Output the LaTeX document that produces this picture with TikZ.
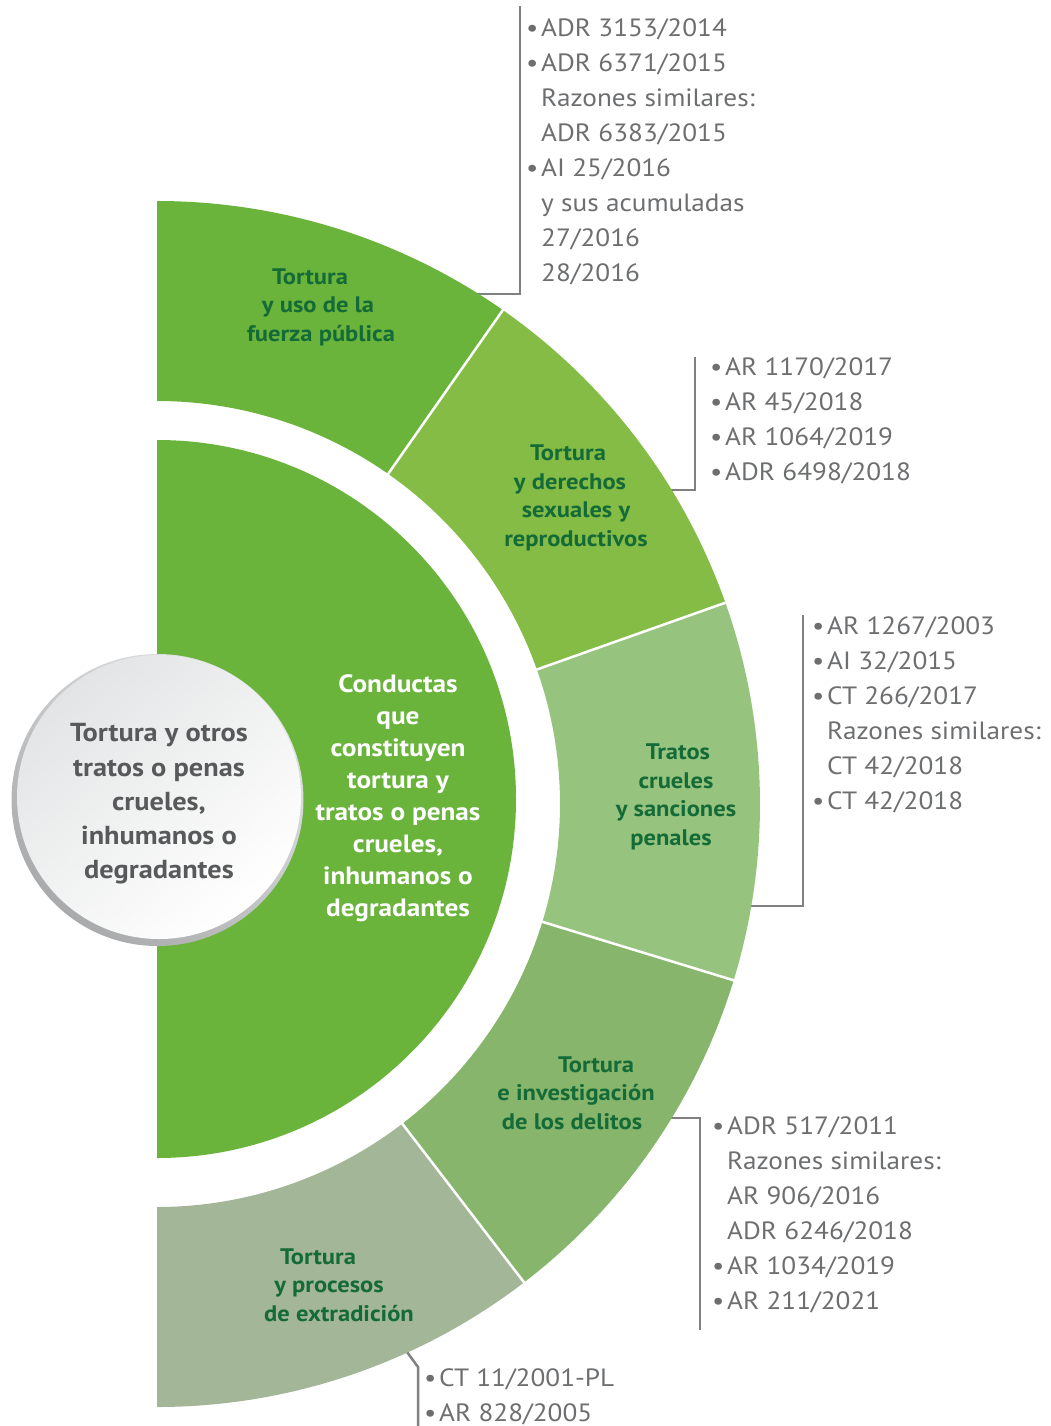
\documentclass[tikz,border=0pt]{standalone}
\usepackage{fontspec}
\setmainfont{PT Sans}[FakeStretch=1.09]
\usetikzlibrary{calc}
\definecolor{cdisc}{HTML}{6AB43C}
\definecolor{cone}{HTML}{6AB43C}
\definecolor{ctwo}{HTML}{84BC45}
\definecolor{cthree}{HTML}{96C47E}
\definecolor{cfour}{HTML}{86B56B}
\definecolor{cfive}{HTML}{A3B698}
\definecolor{tgreen}{HTML}{156B37}
\definecolor{tgray}{HTML}{6D6E70}
\definecolor{tdark}{HTML}{58595B}
\definecolor{lgray}{HTML}{808080}
\definecolor{rimlight}{HTML}{E2E3E4}
\definecolor{rimdark}{HTML}{A9AAAB}
\definecolor{innergray}{HTML}{E3E4E5}
\newcommand\itbul{\makebox[16pt][l]{\hspace{1pt}•}}
\newcommand\itind{\hspace*{16pt}}
% shift a centred line: right by #1/2 or left by #1/2
\newcommand\shr[2]{\rule{#1}{0pt}#2}
\newcommand\shl[2]{#2\rule{#1}{0pt}}
\newcommand\annsec[3]{%
  \fill[#3] ($(O)+(#1:603)$) arc[start angle=#1, end angle=#2, radius=603]
    -- ($(O)+(#2:403)$) arc[start angle=#2, end angle=#1, radius=403] -- cycle;}
\begin{document}
\begin{tikzpicture}[x=1pt,y=1pt,
  seglabel/.style={text=tgreen, font=\bfseries\fontsize{22.5}{28.5}\selectfont, align=center, inner sep=0},
  caselist/.style={text=tgray, font=\fontsize{25}{35.1}\selectfont, align=left, anchor=north west, inner sep=0},
  bracket/.style={draw=lgray, line width=2.5pt, line join=miter},
  divider/.style={draw=white, line width=2.5pt}]
\useasboundingbox (0,0) rectangle (1050,-1426);
\coordinate (O) at (157,-804);
\coordinate (D) at (157,-799);
% bracket coordinates
\coordinate (b1s) at (463.5,-294);
\coordinate (b1c) at (520,-294);
\coordinate (b1e) at (520,-6);
\coordinate (b2s) at (662,-490);
\coordinate (b2c) at (695,-490);
\coordinate (b2e) at (695,-357);
\coordinate (b3s) at (743,-906);
\coordinate (b3c) at (803,-906);
\coordinate (b3e) at (803,-615);
\coordinate (b4s) at (662,-1118);
\coordinate (b4c) at (700,-1118);
\coordinate (b4e) at (700,-1330);
\coordinate (b5s) at (400,-1342.5);
\coordinate (b5c) at (418,-1367);
\coordinate (b5e) at (418,-1426);
\draw[bracket] (b1s) -- (b1c) -- (b1e);
\draw[bracket] (b2s) -- (b2c) -- (b2e);
\draw[bracket] (b3s) -- (b3c) -- (b3e);
\draw[bracket] (b4s) -- (b4c) -- (b4e);
\draw[bracket] (b5s) -- (b5c) -- (b5e);
% ring segments
\annsec{90}{55}{cone}
\annsec{55}{19.5}{ctwo}
\annsec{19.5}{-17}{cthree}
\annsec{-17}{-52.5}{cfour}
\annsec{-52.5}{-90}{cfive}
\foreach \a in {55,19.5,-17,-52.5}
  \draw[divider] ($(O)+(\a:400)$) -- ($(O)+(\a:607)$);
% inner half disc
\fill[cdisc] ($(D)+(90:359)$) arc[start angle=90, end angle=-90, radius=359] -- cycle;
% circle
\shade[top color=rimlight, bottom color=rimdark, shading angle=-40] (157.5,-800) circle (146);
\shade[top color=innergray, middle color=white, bottom color=white, shading angle=40] (159,-797) circle (142);
% texts
\node[text=tdark, font=\bfseries\fontsize{26}{34.3}\selectfont, align=center, inner sep=0] (root) at (159,-804)
  {Tortura y otros\\tratos o penas\\crueles,\\inhumanos o\\degradantes};
\node[text=white, font=\bfseries\fontsize{25}{32}\selectfont, align=center, inner sep=0] (core) at (398,-798)
  {Conductas\\que\\constituyen\\tortura y\\tratos o penas\\crueles,\\inhumanos o\\degradantes};
\node[seglabel] (s1) at (318,-307) {\shl{16pt}{Tortura}\\y uso de la\\\shr{6pt}{fuerza pública}};
\node[seglabel] (s2) at (573,-498) {\shl{10pt}{Tortura}\\\shl{6pt}{y derechos}\\\shr{6pt}{sexuales y}\\\shr{6pt}{reproductivos}};
\node[seglabel] (s3) at (676,-797) {\shr{4pt}{Tratos}\\crueles\\y sanciones\\\shl{10pt}{penales}};
\node[seglabel] (s4) at (580,-1093) {\shr{32pt}{Tortura}\\\shl{8pt}{e investigación}\\\shl{16pt}{de los delitos}};
\node[seglabel] (s5) at (329,-1285) {\shl{22pt}{Tortura}\\y procesos\\\shr{20pt}{de extradición}};
% lists
\node[caselist] (l1) at (525,-11.5) {\strut\itbul ADR 3153/2014\\\strut\itbul ADR 6371/2015\\\strut\itind Razones similares:\\\strut\itind ADR 6383/2015\\\strut\itbul AI 25/2016\\\strut\itind y sus acumuladas\\\strut\itind 27/2016\\\strut\itind 28/2016};
\node[caselist] (l2) at (709,-350.5) {\strut\itbul AR 1170/2017\\\strut\itbul AR 45/2018\\\strut\itbul AR 1064/2019\\\strut\itbul ADR 6498/2018};
\node[caselist] (l3) at (811,-609.5) {\strut\itbul AR 1267/2003\\\strut\itbul AI 32/2015\\\strut\itbul CT 266/2017\\\strut\itind Razones similares:\\\strut\itind CT 42/2018\\\strut\itbul CT 42/2018};
\node[caselist] (l4) at (711,-1109.5) {\strut\itbul ADR 517/2011\\\strut\itind Razones similares:\\\strut\itind AR 906/2016\\\strut\itind ADR 6246/2018\\\strut\itbul AR 1034/2019\\\strut\itbul AR 211/2021};
\node[caselist] (l5) at (423,-1361.5) {\strut\itbul CT 11/2001-PL\\\strut\itbul AR 828/2005};
\end{tikzpicture}
\end{document}
